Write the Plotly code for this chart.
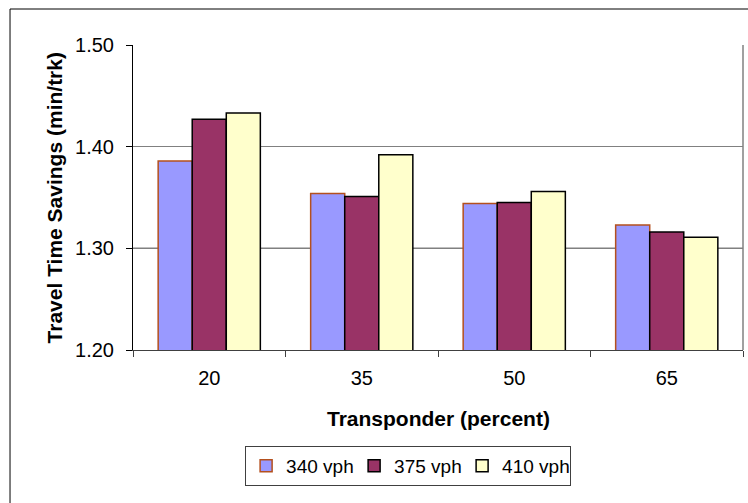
import plotly.graph_objects as go

# Transponder share (percent) on the category axis
transponder = ["20", "35", "50", "65"]

# Travel time savings (min/trk) for each traffic volume
savings_340 = [1.386, 1.354, 1.344, 1.323]
savings_375 = [1.427, 1.351, 1.345, 1.316]
savings_410 = [1.433, 1.392, 1.356, 1.311]

series_names = ["340 vph", "375 vph", "410 vph"]
y_ticks = [1.20, 1.30, 1.40, 1.50]

FONT = "Liberation Sans, Arial, sans-serif"

fig = go.Figure()
styles = [
    ("#9999FF", "#B4501E"),
    ("#993366", "#000000"),
    ("#FFFFCC", "#000000"),
]
for name, vals, (fill, edge) in zip(series_names, [savings_340, savings_375, savings_410], styles):
    fig.add_trace(go.Bar(
        x=transponder, y=vals, name=name,
        marker=dict(color=fill, line=dict(color=edge, width=1.5)),
    ))

fig.update_layout(
    width=748, height=503,
    margin=dict(l=133, r=5, t=45, b=153),
    paper_bgcolor="white", plot_bgcolor="white",
    barmode="group", bargap=0.33, bargroupgap=0,
    font=dict(family=FONT, size=19, color="black"),
    showlegend=True,
    legend=dict(
        orientation="h", x=0.451, y=-0.380, xanchor="center", yanchor="middle",
        bordercolor="#404040", borderwidth=1, bgcolor="white",
        font=dict(family=FONT, size=19, color="black"),
        itemwidth=30, tracegroupgap=0,
        entrywidth=63, entrywidthmode="pixels",
    ),
)

fig.update_xaxes(
    type="category", showgrid=False, showline=True, linecolor="#404040", linewidth=1,
    ticks="outside", tickson="boundaries", ticklen=6, tickcolor="#404040",
    tickfont=dict(size=20), ticklabelstandoff=10,
)
fig.update_yaxes(
    range=[1.2, 1.5], tickvals=y_ticks, ticktext=[f"{v:.2f}" for v in y_ticks],
    showgrid=True, gridcolor="#808080", gridwidth=1,
    showline=True, linecolor="black", linewidth=1,
    ticks="outside", ticklen=6, tickcolor="black",
    tickfont=dict(size=20), ticklabelstandoff=8, zeroline=False,
)

# Axis titles
fig.add_annotation(
    text="<b>Travel Time Savings (min/trk)</b>", textangle=-90,
    xref="paper", yref="paper", x=-0.128, y=0.5, xanchor="center", yanchor="middle",
    showarrow=False, font=dict(family=FONT, size=21, color="black"),
)
fig.add_annotation(
    text="<b>Transponder (percent)</b>",
    xref="paper", yref="paper", x=0.5, y=-0.223, xanchor="center", yanchor="middle",
    showarrow=False, font=dict(family=FONT, size=21, color="black"),
)

# Darker 1.30 gridline, gray right edge of the plot area, and outer chart border
fig.add_shape(type="line", xref="paper", yref="y", x0=0, x1=1, y0=y_ticks[1], y1=y_ticks[1],
              line=dict(color="black", width=1.2), layer="between")
fig.add_shape(type="line", xref="paper", yref="paper", x0=1, x1=1, y0=0, y1=1,
              line=dict(color="#808080", width=1.5))
fig.add_shape(type="rect", xref="paper", yref="paper", x0=-0.2016, x1=1.05, y0=-0.55, y1=1.118,
              line=dict(color="black", width=1))

fig.write_html("out.html")
